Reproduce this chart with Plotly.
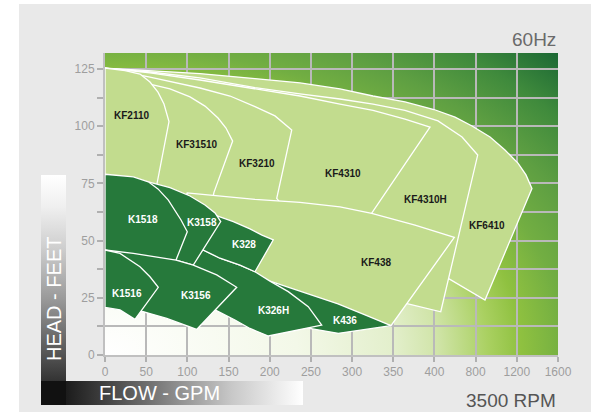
import base64
import numpy as np
import plotly.graph_objects as go

# ---------------- axis definition (non-linear flow axis) ----------------
TICK_GPM = [0, 50, 100, 150, 200, 250, 300, 350, 400, 800, 1200, 1600]
TICK_TEXT = [str(v) for v in TICK_GPM]
HEAD_TICKS = [0, 25, 50, 75, 100, 125]

# ---------------- performance regions (flow GPM, head ft) ----------------
KF6410 = [(0, 125.4), (42.5, 124.6), (115.3, 123.0), (182.1, 120.8), (236.7, 118.9), (285.3, 116.3),
          (325.4, 113.2), (364.2, 110.6), (399.4, 107.3), (600, 104.0), (765, 100.1), (940, 95.3),
          (1085, 89.6), (1211, 83.9), (1289, 78.7), (1347, 72.8), (891, 24.0), (534, 33.5),
          (454, 35.4), (334, 28.4), (273, 39.3), (115, 50.3), (0, 65.6)]
KF4310H = [(0, 125.4), (54.6, 123.7), (115.3, 121.1), (182.1, 116.9), (236.7, 114.1), (285.3, 111.9),
           (325.4, 109.7), (364.2, 106.9), (434.5, 102.3), (668, 95.3), (820, 87.4), (461, 18.9),
           (358, 23.2), (334, 28.4), (273, 39.3), (115, 50.3), (0, 65.6)]
KF4310 = [(0, 125.4), (54.6, 123.3), (115.3, 120.2), (182.1, 116.5), (236.7, 113.2), (285.3, 109.7),
          (325.4, 106.9), (364.2, 103.1), (394.6, 99.6), (323, 61.6), (334, 28.4), (273, 39.3),
          (115, 50.3), (0, 65.6)]
KF3210 = [(0, 125.4), (54.6, 121.5), (115.3, 116.7), (151.8, 113.2), (182.1, 108.6), (206.4, 104.5),
          (226.7, 98.3), (208.5, 68.5), (273, 39.3), (115, 50.3), (0, 65.6)]
KF31510 = [(0, 125.4), (50.6, 118.7), (78.9, 116.3), (103.2, 112.8), (121.4, 108.8), (137.2, 103.6),
           (146.9, 99.2), (155.0, 93.5), (132.3, 71.1), (121.4, 52.4), (0, 65.6)]
KF2110 = [(0, 125.4), (24.3, 124.3), (42.5, 122.8), (54.6, 119.3), (64.3, 114.9), (71.6, 109.7),
          (77.7, 102.0), (63.5, 75.0), (54.6, 59.0), (0, 65.6)]
KF438 = [(99.2, 70.9), (139.6, 69.5), (182.1, 68.0), (236.7, 66.7), (285.3, 64.7), (323.8, 61.9),
         (376.4, 56.8), (593, 51.4), (347.2, 12.8), (273.2, 19.7), (163.9, 37.1), (115.3, 52.4)]

K436 = [(200.3, 32.3), (236.7, 28.0), (282.9, 22.3), (315.7, 17.5), (347.2, 12.8), (283.3, 9.5),
        (246.8, 11.7), (224.6, 19.7)]
K326H = [(119.3, 45.9), (139.6, 42.3), (163.9, 39.3), (182.1, 36.4), (200.3, 32.3), (222.5, 27.7),
         (246.8, 21.1), (263.1, 13.1), (198.3, 8.3), (176.0, 11.6), (157.8, 15.3), (133.6, 19.7),
         (115.3, 28.4), (103.2, 42.4)]
K328 = [(127.5, 61.9), (155.8, 58.3), (176.0, 55.1), (190.6, 52.4), (204.3, 50.3), (182.1, 36.4),
        (163.9, 39.3), (139.6, 42.3), (119.3, 45.9), (115.3, 55.5)]
K3158 = [(52.6, 75.7), (78.9, 73.2), (103.2, 69.5), (121.4, 65.6), (133.6, 62.1), (140.5, 58.3),
         (107.2, 39.3), (86.2, 41.5), (66.8, 59.0)]
K1518 = [(0, 79.0), (34.4, 77.9), (52.6, 75.7), (64.3, 72.6), (76.9, 67.7), (85.0, 63.4), (92.3, 59.0),
         (99.9, 53.9), (86.2, 41.5), (54.6, 40.6), (0, 40.6)]
K3156 = [(0, 45.9), (34.4, 44.4), (86.2, 41.5), (107.2, 39.3), (135.6, 35.0), (159.9, 29.6),
         (111.3, 11.2), (91.1, 13.8), (74.9, 16.0), (54.6, 18.1), (46.5, 18.9), (37.6, 19.4),
         (30.4, 26.2), (0, 28.4)]
K1516 = [(0, 45.9), (18.2, 44.4), (42.5, 38.6), (54.6, 34.2), (64.7, 29.6), (36.4, 15.6), (18.2, 19.7),
         (0, 20.8)]

LIGHT_NAMES = ["KF6410", "KF4310H", "KF4310", "KF3210", "KF31510", "KF2110", "KF438"]
DARK_NAMES = ["K436", "K326H", "K328", "K3158", "K1518", "K3156", "K1516"]
REGIONS = {"KF6410": KF6410, "KF4310H": KF4310H, "KF4310": KF4310, "KF3210": KF3210,
           "KF31510": KF31510, "KF2110": KF2110, "KF438": KF438, "K436": K436, "K326H": K326H,
           "K328": K328, "K3158": K3158, "K1518": K1518, "K3156": K3156, "K1516": K1516}

# label positions (flow GPM, head ft)
LABEL_NAMES = ["KF2110", "KF31510", "KF3210", "KF4310", "KF4310H", "KF6410", "KF438",
               "K1518", "K3158", "K328", "K1516", "K3156", "K326H", "K436"]
LABEL_GPM = [32.4, 111.3, 184.5, 289.3, 389.3, 907.5, 328.7, 46.5, 117.4, 168.8, 26.3, 110.1, 204.3, 291.4]
LABEL_FT = [104.9, 92.1, 83.5, 79.4, 68.0, 56.5, 40.3, 59.3, 57.8, 48.4, 27.0, 25.9, 19.4, 15.0]

LIGHT = "#c2dc8e"
DARK = "#26793b"


def to_axis(gpm):
    return np.interp(gpm, TICK_GPM, np.arange(len(TICK_GPM)))


fig = go.Figure()
for name in LIGHT_NAMES + DARK_NAMES:
    pts = REGIONS[name]
    xs = [to_axis(p[0]) for p in pts]
    ys = [p[1] for p in pts]
    fig.add_trace(go.Scatter(x=xs + [xs[0]], y=ys + [ys[0]], mode="lines", fill="toself",
                             fillcolor=LIGHT if name in LIGHT_NAMES else DARK,
                             line=dict(color="white", width=1.3), hoverinfo="skip",
                             showlegend=False))

annotations = []
for name, g, f in zip(LABEL_NAMES, LABEL_GPM, LABEL_FT):
    annotations.append(dict(x=float(to_axis(g)), y=f, xref="x", yref="y", text="<b>%s</b>" % name,
                            showarrow=False,
                            font=dict(family="Liberation Sans Narrow, Arial Narrow, sans-serif", size=10,
                                      color="#1a1a1a" if name.startswith("KF") else "#ffffff")))

# plot area geometry in pixels: x 105..558, y 53..355
W, H = 591, 413
L, R, T, B = 105, 33, 53, 58
PW, PH = W - L - R, H - T - B

svg = f'''<svg xmlns="http://www.w3.org/2000/svg" width="{W}" height="{H}" viewBox="0 0 {W} {H}">
<defs>
<radialGradient id="g" cx="0" cy="1" r="1.414">
<stop offset="0" stop-color="#ffffff"/>
<stop offset="0.3" stop-color="#f3f8e8"/>
<stop offset="0.45" stop-color="#e3efcc"/>
<stop offset="0.52" stop-color="#d0e4a8"/>
<stop offset="0.6" stop-color="#a9d060"/>
<stop offset="0.65" stop-color="#8fc140"/>
<stop offset="0.72" stop-color="#72ae42"/>
<stop offset="0.8" stop-color="#5e9f42"/>
<stop offset="0.9" stop-color="#3f8a3c"/>
<stop offset="1" stop-color="#1b6834"/>
</radialGradient>
<linearGradient id="v" x1="0" y1="0" x2="0" y2="1">
<stop offset="0" stop-color="#ffffff"/>
<stop offset="0.15" stop-color="#f0f0f0"/>
<stop offset="0.35" stop-color="#cfcfcf"/>
<stop offset="0.6" stop-color="#9a9a9a"/>
<stop offset="0.85" stop-color="#5a5a5a"/>
<stop offset="1" stop-color="#333333"/>
</linearGradient>
<linearGradient id="h" x1="0" y1="0" x2="1" y2="0">
<stop offset="0" stop-color="#1c1c1c"/>
<stop offset="0.15" stop-color="#3d3d3d"/>
<stop offset="0.4" stop-color="#7d7d7d"/>
<stop offset="0.7" stop-color="#c8c8c8"/>
<stop offset="1" stop-color="#ffffff"/>
</linearGradient>
</defs>
<rect width="{W}" height="{H}" fill="#ffffff"/>
<rect x="19" y="4" width="{W-19}" height="408" fill="#e9e9e9"/>
<rect x="{L}" y="{T}" width="{PW}" height="{PH}" fill="url(#g)"/>
<rect x="41" y="175" width="25" height="206" fill="url(#v)"/>
<rect x="41" y="381" width="25" height="24" fill="#111111"/>
<rect x="66" y="381" width="237" height="24" fill="url(#h)"/>
</svg>'''
src = "data:image/svg+xml;base64," + base64.b64encode(svg.encode()).decode()

fig.add_layout_image(dict(source=src, xref="paper", yref="paper", x=-L / PW, y=(PH + T) / PH,
                          sizex=W / PW, sizey=H / PH, xanchor="left", yanchor="top",
                          sizing="stretch", layer="below"))


def px_to_paper(px, py):
    return (px - L) / PW, (H - B - py) / PH


ax, ay = px_to_paper(558, 40)
annotations.append(dict(x=ax, y=ay, xref="paper", yref="paper", text="60Hz", showarrow=False,
                        xanchor="right", yanchor="middle",
                        font=dict(family="Liberation Sans, Arial, sans-serif", size=19, color="#6a6a6a")))
ax, ay = px_to_paper(558, 400)
annotations.append(dict(x=ax, y=ay, xref="paper", yref="paper", text="3500 RPM", showarrow=False,
                        xanchor="right", yanchor="middle",
                        font=dict(family="Liberation Sans, Arial, sans-serif", size=19, color="#555555")))
ax, ay = px_to_paper(54, 299)
annotations.append(dict(x=ax, y=ay, xref="paper", yref="paper", text="HEAD - FEET", showarrow=False,
                        textangle=-90, xanchor="center", yanchor="middle",
                        font=dict(family="Liberation Sans, Arial, sans-serif", size=20, color="#ffffff")))
ax, ay = px_to_paper(97, 393)
annotations.append(dict(x=ax, y=ay, xref="paper", yref="paper", text="FLOW - GPM", showarrow=False,
                        xanchor="left", yanchor="middle",
                        font=dict(family="Liberation Sans, Arial, sans-serif", size=20, color="#ffffff")))

grid = "rgba(185,185,185,1)"
fig.update_layout(
    width=W, height=H, margin=dict(l=L, r=R, t=T, b=B, pad=0),
    paper_bgcolor="#ffffff", plot_bgcolor="rgba(0,0,0,0)",
    hovermode=False, showlegend=False, annotations=annotations,
    font=dict(family="Liberation Sans, Arial, sans-serif"),
    xaxis=dict(range=[0, len(TICK_GPM) - 1], tickmode="array", tickvals=list(range(len(TICK_GPM))),
               ticktext=TICK_TEXT, ticks="outside", ticklen=5, tickwidth=1.5, tickcolor="#b0b0b0",
               tickfont=dict(size=12, color="#9e9e9e"), showgrid=True, gridcolor=grid, gridwidth=1.5,
               zeroline=False, showline=True, linecolor="#c0c0c0", linewidth=2, layer="below traces",
               fixedrange=True),
    yaxis=dict(range=[0, 132], tickmode="array", tickvals=HEAD_TICKS, ticks="outside", ticklen=6,
               tickwidth=1.5, tickcolor="#b0b0b0", tickfont=dict(size=12, color="#9e9e9e"),
               showgrid=True, gridcolor=grid, gridwidth=1.5,
               minor=dict(dtick=12.5, tick0=0, ticks="outside", ticklen=6, tickwidth=1.5, tickcolor="#b0b0b0",
                          showgrid=True, gridcolor=grid, gridwidth=1.5),
               zeroline=False, showline=True, linecolor="#c0c0c0", linewidth=2, layer="below traces",
               fixedrange=True),
)

fig.write_html("out.html", config={"displayModeBar": False},
               post_script="document.body.style.margin='0px';document.body.style.overflow='hidden';")
